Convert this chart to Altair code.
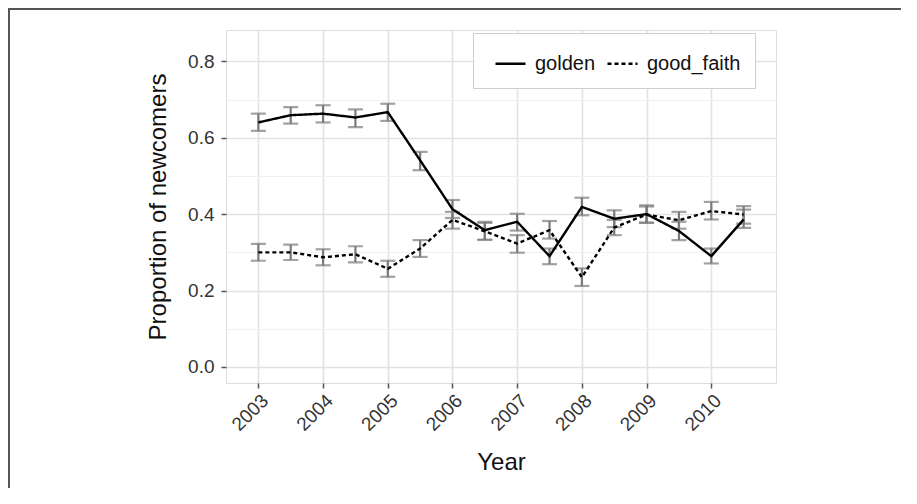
import altair as alt
import pandas as pd

years = [2003, 2003.5, 2004, 2004.5, 2005, 2005.5, 2006, 2006.5,
         2007, 2007.5, 2008, 2008.5, 2009, 2009.5, 2010, 2010.5]

golden = [0.640, 0.659, 0.663, 0.653, 0.667, 0.541, 0.413, 0.358,
          0.380, 0.290, 0.419, 0.388, 0.400, 0.356, 0.290, 0.386]
golden_lo = [0.618, 0.637, 0.640, 0.628, 0.644, 0.515, 0.390, 0.333,
             0.357, 0.269, 0.397, 0.366, 0.377, 0.332, 0.271, 0.364]
golden_hi = [0.663, 0.680, 0.685, 0.674, 0.689, 0.563, 0.437, 0.380,
             0.401, 0.310, 0.443, 0.410, 0.423, 0.380, 0.310, 0.412]

good_faith = [0.300, 0.300, 0.287, 0.295, 0.257, 0.310, 0.385, 0.355,
              0.323, 0.358, 0.235, 0.365, 0.399, 0.384, 0.408, 0.399]
good_faith_lo = [0.278, 0.280, 0.266, 0.274, 0.236, 0.288, 0.362, 0.333,
                 0.299, 0.336, 0.212, 0.345, 0.378, 0.362, 0.386, 0.375]
good_faith_hi = [0.322, 0.320, 0.308, 0.316, 0.278, 0.332, 0.406, 0.377,
                 0.345, 0.382, 0.258, 0.385, 0.420, 0.406, 0.432, 0.421]

groups = ["golden", "good_faith"]
x_ticks = [2003, 2003.5, 2004, 2004.5, 2005, 2005.5, 2006, 2006.5,
           2007, 2007.5, 2008, 2008.5, 2009, 2009.5, 2010, 2010.5]
y_ticks = [0.0, 0.1, 0.2, 0.3, 0.4, 0.5, 0.6, 0.7, 0.8]

rows = []
for i, yr in enumerate(years):
    rows.append({"year": yr, "group": "golden", "p": golden[i],
                 "lo": golden_lo[i], "hi": golden_hi[i]})
    rows.append({"year": yr, "group": "good_faith", "p": good_faith[i],
                 "lo": good_faith_lo[i], "hi": good_faith_hi[i]})
df = pd.DataFrame(rows)

FONT = "Liberation Sans"
MAJOR = "#e2e2e2"
MINOR = "#f1f1f1"
LABEL = "#333333"

x_axis = alt.Axis(
    values=x_ticks, format="d", title="Year",
    labelExpr="datum.value % 1 == 0 ? datum.label : ''",
    labelAngle=-45, labelAlign="right", labelBaseline="top",
    labelFontSize=19, labelColor=LABEL, labelPadding=3,
    titleFontSize=24, titleFontWeight="normal", titlePadding=16, titleColor="#111",
    tickSize=5, tickWidth=1.5,
    tickColor={"condition": {"test": "datum.value % 1 != 0", "value": "transparent"}, "value": "#555"},
    gridColor={"condition": {"test": "datum.value % 1 != 0", "value": MINOR}, "value": MAJOR},
    gridWidth={"condition": {"test": "datum.value % 1 != 0", "value": 1}, "value": 1.6},
    domain=False, labelFont=FONT, titleFont=FONT,
)
y_axis = alt.Axis(
    values=y_ticks, format=".1f", title="Proportion of newcomers",
    labelExpr="round(datum.value * 10) % 2 == 0 ? datum.label : ''",
    labelFontSize=19, labelColor=LABEL, labelPadding=7,
    titleFontSize=24, titleFontWeight="normal", titlePadding=17, titleColor="#111",
    tickSize=5, tickWidth=1.5,
    tickColor={"condition": {"test": "round(datum.value * 10) % 2 == 1", "value": "transparent"}, "value": "#555"},
    gridColor={"condition": {"test": "round(datum.value * 10) % 2 == 1", "value": MINOR}, "value": MAJOR},
    gridWidth={"condition": {"test": "round(datum.value * 10) % 2 == 1", "value": 1}, "value": 1.6},
    domain=False, labelFont=FONT, titleFont=FONT,
)

xs = alt.Scale(domain=[2002.5, 2011], nice=False, zero=False)
ys = alt.Scale(domain=[-0.042, 0.882], nice=False, zero=False)

base = alt.Chart(df)

errbars = base.mark_errorbar(ticks=True, size=15, thickness=2.2, color="#7a7a7a").encode(
    x=alt.X("year:Q", scale=xs, axis=x_axis),
    y=alt.Y("lo:Q", scale=ys, axis=y_axis),
    y2="hi:Q",
    detail="group:N",
)

lines = base.mark_line(color="black", strokeWidth=2.4).encode(
    x=alt.X("year:Q", scale=xs, axis=x_axis),
    y=alt.Y("p:Q", scale=ys, axis=y_axis),
    strokeDash=alt.StrokeDash(
        "group:N",
        scale=alt.Scale(domain=groups, range=[[1, 0], [4, 3]]),
        legend=alt.Legend(
            title=None, orient="none", legendX=247, legendY=3,
            direction="horizontal", symbolType="stroke", symbolSize=900,
            symbolStrokeWidth=2.4, symbolStrokeColor="black", symbolOffset=7,
            labelFontSize=20, labelFont=FONT, labelColor="#111",
            strokeColor="#cfcfcf", fillColor="white", padding=14,
            columnPadding=3, labelOffset=8,
        ),
    ),
)

frame_src = alt.Chart(pd.DataFrame({"k": [0]}))
frame_top = frame_src.mark_rect(color="#555", strokeWidth=0).encode(
    x=alt.value(-218), x2=alt.value(675), y=alt.value(-22), y2=alt.value(-20),
)
frame_left = frame_src.mark_rect(color="#555", strokeWidth=0).encode(
    x=alt.value(-218), x2=alt.value(-216), y=alt.value(-22), y2=alt.value(458),
)

chart = alt.layer(errbars, lines, frame_top, frame_left).properties(
    width=550, height=353,
    autosize=alt.AutoSizeParams(type="none"),
    padding={"left": 218, "top": 22, "right": 125, "bottom": 105},
).configure_view(
    stroke="#808080", strokeWidth=1.6
).configure_legend(
    strokeWidth=2
).configure(background="white")

chart.save("out.html", embed_options={"renderer": "svg", "actions": False})
